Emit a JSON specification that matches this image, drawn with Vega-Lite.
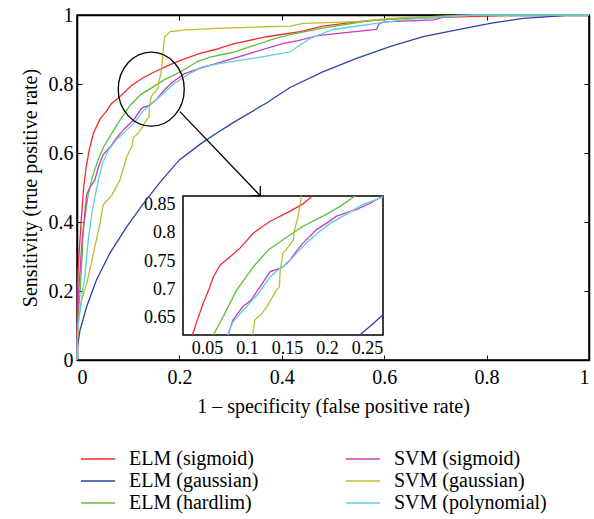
{
  "$schema": "https://vega.github.io/schema/vega-lite/v6.json",
  "width": 512,
  "height": 345,
  "autosize": {"type": "none"},
  "padding": {"left": 77, "top": 15, "right": 5, "bottom": 159},
  "background": "white",
  "config": {
    "view": {"stroke": "black", "strokeWidth": 1.5},
    "font": "Liberation Serif",
    "axis": {"grid": false, "labelFont": "Liberation Serif", "titleFont": "Liberation Serif", "labelColor": "black", "titleColor": "black", "domainColor": "black", "tickColor": "black", "titleFontWeight": "normal", "domainWidth": 1.5, "tickWidth": 1},
    "legend": {"labelFont": "Liberation Serif", "labelColor": "black"}
  },
  "datasets": {
    "main": [
      {"model":"ELM (sigmoid)","x":0,"y":0},{"model":"ELM (sigmoid)","x":0.0005,"y":0.19},{"model":"ELM (sigmoid)","x":0.002,"y":0.26},{"model":"ELM (sigmoid)","x":0.005,"y":0.33},{"model":"ELM (sigmoid)","x":0.009,"y":0.42},{"model":"ELM (sigmoid)","x":0.013,"y":0.5},{"model":"ELM (sigmoid)","x":0.018,"y":0.56},{"model":"ELM (sigmoid)","x":0.024,"y":0.61},{"model":"ELM (sigmoid)","x":0.032,"y":0.657},{"model":"ELM (sigmoid)","x":0.045,"y":0.698},{"model":"ELM (sigmoid)","x":0.058,"y":0.722},{"model":"ELM (sigmoid)","x":0.067,"y":0.743},{"model":"ELM (sigmoid)","x":0.085,"y":0.765},{"model":"ELM (sigmoid)","x":0.106,"y":0.795},{"model":"ELM (sigmoid)","x":0.129,"y":0.818},{"model":"ELM (sigmoid)","x":0.154,"y":0.837},{"model":"ELM (sigmoid)","x":0.183,"y":0.857},{"model":"ELM (sigmoid)","x":0.21,"y":0.873},{"model":"ELM (sigmoid)","x":0.24,"y":0.889},{"model":"ELM (sigmoid)","x":0.27,"y":0.9},{"model":"ELM (sigmoid)","x":0.305,"y":0.916},{"model":"ELM (sigmoid)","x":0.37,"y":0.937},{"model":"ELM (sigmoid)","x":0.436,"y":0.952},{"model":"ELM (sigmoid)","x":0.48,"y":0.968},{"model":"ELM (sigmoid)","x":0.546,"y":0.98},{"model":"ELM (sigmoid)","x":0.611,"y":0.988},{"model":"ELM (sigmoid)","x":0.71,"y":0.993},{"model":"ELM (sigmoid)","x":0.8,"y":0.997},{"model":"ELM (sigmoid)","x":0.85,"y":1},{"model":"ELM (sigmoid)","x":1,"y":1},
      {"model":"ELM (gaussian)","x":0,"y":0},{"model":"ELM (gaussian)","x":0.001,"y":0.039},{"model":"ELM (gaussian)","x":0.006,"y":0.087},{"model":"ELM (gaussian)","x":0.019,"y":0.155},{"model":"ELM (gaussian)","x":0.038,"y":0.232},{"model":"ELM (gaussian)","x":0.064,"y":0.309},{"model":"ELM (gaussian)","x":0.097,"y":0.386},{"model":"ELM (gaussian)","x":0.13,"y":0.454},{"model":"ELM (gaussian)","x":0.162,"y":0.515},{"model":"ELM (gaussian)","x":0.2,"y":0.58},{"model":"ELM (gaussian)","x":0.24,"y":0.625},{"model":"ELM (gaussian)","x":0.27,"y":0.655},{"model":"ELM (gaussian)","x":0.305,"y":0.688},{"model":"ELM (gaussian)","x":0.37,"y":0.745},{"model":"ELM (gaussian)","x":0.416,"y":0.79},{"model":"ELM (gaussian)","x":0.481,"y":0.836},{"model":"ELM (gaussian)","x":0.546,"y":0.874},{"model":"ELM (gaussian)","x":0.611,"y":0.908},{"model":"ELM (gaussian)","x":0.676,"y":0.937},{"model":"ELM (gaussian)","x":0.742,"y":0.957},{"model":"ELM (gaussian)","x":0.807,"y":0.976},{"model":"ELM (gaussian)","x":0.872,"y":0.99},{"model":"ELM (gaussian)","x":0.937,"y":0.997},{"model":"ELM (gaussian)","x":0.96,"y":1},{"model":"ELM (gaussian)","x":1,"y":1},
      {"model":"ELM (hardlim)","x":0,"y":0},{"model":"ELM (hardlim)","x":0.0005,"y":0.05},{"model":"ELM (hardlim)","x":0.002,"y":0.12},{"model":"ELM (hardlim)","x":0.006,"y":0.2},{"model":"ELM (hardlim)","x":0.01,"y":0.3},{"model":"ELM (hardlim)","x":0.012,"y":0.377},{"model":"ELM (hardlim)","x":0.017,"y":0.43},{"model":"ELM (hardlim)","x":0.022,"y":0.48},{"model":"ELM (hardlim)","x":0.03,"y":0.53},{"model":"ELM (hardlim)","x":0.041,"y":0.58},{"model":"ELM (hardlim)","x":0.052,"y":0.618},{"model":"ELM (hardlim)","x":0.068,"y":0.657},{"model":"ELM (hardlim)","x":0.085,"y":0.698},{"model":"ELM (hardlim)","x":0.105,"y":0.74},{"model":"ELM (hardlim)","x":0.125,"y":0.77},{"model":"ELM (hardlim)","x":0.145,"y":0.788},{"model":"ELM (hardlim)","x":0.17,"y":0.812},{"model":"ELM (hardlim)","x":0.195,"y":0.83},{"model":"ELM (hardlim)","x":0.216,"y":0.847},{"model":"ELM (hardlim)","x":0.235,"y":0.865},{"model":"ELM (hardlim)","x":0.26,"y":0.878},{"model":"ELM (hardlim)","x":0.305,"y":0.892},{"model":"ELM (hardlim)","x":0.383,"y":0.93},{"model":"ELM (hardlim)","x":0.416,"y":0.943},{"model":"ELM (hardlim)","x":0.48,"y":0.962},{"model":"ELM (hardlim)","x":0.572,"y":0.984},{"model":"ELM (hardlim)","x":0.65,"y":0.992},{"model":"ELM (hardlim)","x":0.73,"y":0.998},{"model":"ELM (hardlim)","x":0.78,"y":1},{"model":"ELM (hardlim)","x":1,"y":1},
      {"model":"SVM (sigmoid)","x":0,"y":0},{"model":"SVM (sigmoid)","x":0.0005,"y":0.1},{"model":"SVM (sigmoid)","x":0.003,"y":0.193},{"model":"SVM (sigmoid)","x":0.006,"y":0.26},{"model":"SVM (sigmoid)","x":0.009,"y":0.328},{"model":"SVM (sigmoid)","x":0.013,"y":0.39},{"model":"SVM (sigmoid)","x":0.016,"y":0.435},{"model":"SVM (sigmoid)","x":0.019,"y":0.48},{"model":"SVM (sigmoid)","x":0.025,"y":0.5},{"model":"SVM (sigmoid)","x":0.035,"y":0.522},{"model":"SVM (sigmoid)","x":0.042,"y":0.56},{"model":"SVM (sigmoid)","x":0.051,"y":0.595},{"model":"SVM (sigmoid)","x":0.065,"y":0.618},{"model":"SVM (sigmoid)","x":0.078,"y":0.645},{"model":"SVM (sigmoid)","x":0.092,"y":0.669},{"model":"SVM (sigmoid)","x":0.11,"y":0.695},{"model":"SVM (sigmoid)","x":0.127,"y":0.731},{"model":"SVM (sigmoid)","x":0.14,"y":0.737},{"model":"SVM (sigmoid)","x":0.153,"y":0.752},{"model":"SVM (sigmoid)","x":0.17,"y":0.782},{"model":"SVM (sigmoid)","x":0.187,"y":0.806},{"model":"SVM (sigmoid)","x":0.21,"y":0.83},{"model":"SVM (sigmoid)","x":0.24,"y":0.845},{"model":"SVM (sigmoid)","x":0.273,"y":0.86},{"model":"SVM (sigmoid)","x":0.338,"y":0.889},{"model":"SVM (sigmoid)","x":0.403,"y":0.918},{"model":"SVM (sigmoid)","x":0.43,"y":0.925},{"model":"SVM (sigmoid)","x":0.47,"y":0.94},{"model":"SVM (sigmoid)","x":0.52,"y":0.948},{"model":"SVM (sigmoid)","x":0.585,"y":0.958},{"model":"SVM (sigmoid)","x":0.59,"y":0.975},{"model":"SVM (sigmoid)","x":0.6,"y":0.98},{"model":"SVM (sigmoid)","x":0.696,"y":0.986},{"model":"SVM (sigmoid)","x":0.72,"y":0.995},{"model":"SVM (sigmoid)","x":0.75,"y":1},{"model":"SVM (sigmoid)","x":1,"y":1},
      {"model":"SVM (gaussian)","x":0,"y":0},{"model":"SVM (gaussian)","x":0.001,"y":0.058},{"model":"SVM (gaussian)","x":0.003,"y":0.116},{"model":"SVM (gaussian)","x":0.009,"y":0.174},{"model":"SVM (gaussian)","x":0.019,"y":0.222},{"model":"SVM (gaussian)","x":0.025,"y":0.261},{"model":"SVM (gaussian)","x":0.032,"y":0.309},{"model":"SVM (gaussian)","x":0.045,"y":0.396},{"model":"SVM (gaussian)","x":0.051,"y":0.449},{"model":"SVM (gaussian)","x":0.068,"y":0.478},{"model":"SVM (gaussian)","x":0.084,"y":0.522},{"model":"SVM (gaussian)","x":0.097,"y":0.589},{"model":"SVM (gaussian)","x":0.107,"y":0.618},{"model":"SVM (gaussian)","x":0.11,"y":0.645},{"model":"SVM (gaussian)","x":0.118,"y":0.655},{"model":"SVM (gaussian)","x":0.125,"y":0.669},{"model":"SVM (gaussian)","x":0.137,"y":0.698},{"model":"SVM (gaussian)","x":0.1405,"y":0.704},{"model":"SVM (gaussian)","x":0.1415,"y":0.734},{"model":"SVM (gaussian)","x":0.145,"y":0.764},{"model":"SVM (gaussian)","x":0.152,"y":0.776},{"model":"SVM (gaussian)","x":0.158,"y":0.788},{"model":"SVM (gaussian)","x":0.1595,"y":0.806},{"model":"SVM (gaussian)","x":0.164,"y":0.83},{"model":"SVM (gaussian)","x":0.167,"y":0.87},{"model":"SVM (gaussian)","x":0.1685,"y":0.9},{"model":"SVM (gaussian)","x":0.171,"y":0.937},{"model":"SVM (gaussian)","x":0.182,"y":0.952},{"model":"SVM (gaussian)","x":0.214,"y":0.957},{"model":"SVM (gaussian)","x":0.273,"y":0.961},{"model":"SVM (gaussian)","x":0.37,"y":0.966},{"model":"SVM (gaussian)","x":0.416,"y":0.968},{"model":"SVM (gaussian)","x":0.442,"y":0.976},{"model":"SVM (gaussian)","x":0.546,"y":0.981},{"model":"SVM (gaussian)","x":0.611,"y":0.99},{"model":"SVM (gaussian)","x":0.73,"y":0.997},{"model":"SVM (gaussian)","x":0.8,"y":1},{"model":"SVM (gaussian)","x":1,"y":1},
      {"model":"SVM (polynomial)","x":0,"y":0},{"model":"SVM (polynomial)","x":0.001,"y":0.087},{"model":"SVM (polynomial)","x":0.006,"y":0.145},{"model":"SVM (polynomial)","x":0.011,"y":0.2},{"model":"SVM (polynomial)","x":0.016,"y":0.251},{"model":"SVM (polynomial)","x":0.022,"y":0.348},{"model":"SVM (polynomial)","x":0.029,"y":0.425},{"model":"SVM (polynomial)","x":0.036,"y":0.48},{"model":"SVM (polynomial)","x":0.042,"y":0.522},{"model":"SVM (polynomial)","x":0.05,"y":0.57},{"model":"SVM (polynomial)","x":0.062,"y":0.61},{"model":"SVM (polynomial)","x":0.078,"y":0.64},{"model":"SVM (polynomial)","x":0.094,"y":0.662},{"model":"SVM (polynomial)","x":0.112,"y":0.688},{"model":"SVM (polynomial)","x":0.129,"y":0.722},{"model":"SVM (polynomial)","x":0.141,"y":0.737},{"model":"SVM (polynomial)","x":0.162,"y":0.764},{"model":"SVM (polynomial)","x":0.191,"y":0.803},{"model":"SVM (polynomial)","x":0.22,"y":0.83},{"model":"SVM (polynomial)","x":0.245,"y":0.85},{"model":"SVM (polynomial)","x":0.28,"y":0.86},{"model":"SVM (polynomial)","x":0.35,"y":0.876},{"model":"SVM (polynomial)","x":0.416,"y":0.893},{"model":"SVM (polynomial)","x":0.455,"y":0.932},{"model":"SVM (polynomial)","x":0.5,"y":0.958},{"model":"SVM (polynomial)","x":0.585,"y":0.976},{"model":"SVM (polynomial)","x":0.65,"y":0.988},{"model":"SVM (polynomial)","x":0.73,"y":0.996},{"model":"SVM (polynomial)","x":0.78,"y":1},{"model":"SVM (polynomial)","x":1,"y":1}
    ],
    "inset": [
      {"model":"ELM (sigmoid)","x":0.0317,"y":0.618},{"model":"ELM (sigmoid)","x":0.038,"y":0.645},{"model":"ELM (sigmoid)","x":0.0454,"y":0.675},{"model":"ELM (sigmoid)","x":0.052,"y":0.698},{"model":"ELM (sigmoid)","x":0.058,"y":0.722},{"model":"ELM (sigmoid)","x":0.0666,"y":0.743},{"model":"ELM (sigmoid)","x":0.0767,"y":0.755},{"model":"ELM (sigmoid)","x":0.0913,"y":0.773},{"model":"ELM (sigmoid)","x":0.108,"y":0.8},{"model":"ELM (sigmoid)","x":0.129,"y":0.821},{"model":"ELM (sigmoid)","x":0.154,"y":0.839},{"model":"ELM (sigmoid)","x":0.17,"y":0.852},{"model":"ELM (sigmoid)","x":0.182,"y":0.866},
      {"model":"ELM (gaussian)","x":0.241,"y":0.618},{"model":"ELM (gaussian)","x":0.255,"y":0.635},{"model":"ELM (gaussian)","x":0.27,"y":0.654},
      {"model":"ELM (hardlim)","x":0.058,"y":0.618},{"model":"ELM (hardlim)","x":0.0725,"y":0.657},{"model":"ELM (hardlim)","x":0.087,"y":0.698},{"model":"ELM (hardlim)","x":0.098,"y":0.72},{"model":"ELM (hardlim)","x":0.108,"y":0.74},{"model":"ELM (hardlim)","x":0.127,"y":0.77},{"model":"ELM (hardlim)","x":0.145,"y":0.788},{"model":"ELM (hardlim)","x":0.17,"y":0.812},{"model":"ELM (hardlim)","x":0.195,"y":0.83},{"model":"ELM (hardlim)","x":0.216,"y":0.847},{"model":"ELM (hardlim)","x":0.235,"y":0.866},
      {"model":"SVM (sigmoid)","x":0.0763,"y":0.618},{"model":"SVM (sigmoid)","x":0.0825,"y":0.645},{"model":"SVM (sigmoid)","x":0.095,"y":0.669},{"model":"SVM (sigmoid)","x":0.105,"y":0.68},{"model":"SVM (sigmoid)","x":0.112,"y":0.695},{"model":"SVM (sigmoid)","x":0.12,"y":0.712},{"model":"SVM (sigmoid)","x":0.129,"y":0.731},{"model":"SVM (sigmoid)","x":0.141,"y":0.737},{"model":"SVM (sigmoid)","x":0.145,"y":0.74},{"model":"SVM (sigmoid)","x":0.154,"y":0.752},{"model":"SVM (sigmoid)","x":0.162,"y":0.768},{"model":"SVM (sigmoid)","x":0.17,"y":0.782},{"model":"SVM (sigmoid)","x":0.187,"y":0.806},{"model":"SVM (sigmoid)","x":0.2,"y":0.818},{"model":"SVM (sigmoid)","x":0.212,"y":0.83},{"model":"SVM (sigmoid)","x":0.237,"y":0.842},{"model":"SVM (sigmoid)","x":0.254,"y":0.853},{"model":"SVM (sigmoid)","x":0.27,"y":0.866},
      {"model":"SVM (gaussian)","x":0.107,"y":0.618},{"model":"SVM (gaussian)","x":0.11,"y":0.645},{"model":"SVM (gaussian)","x":0.118,"y":0.655},{"model":"SVM (gaussian)","x":0.125,"y":0.669},{"model":"SVM (gaussian)","x":0.137,"y":0.698},{"model":"SVM (gaussian)","x":0.1405,"y":0.704},{"model":"SVM (gaussian)","x":0.1415,"y":0.734},{"model":"SVM (gaussian)","x":0.145,"y":0.764},{"model":"SVM (gaussian)","x":0.152,"y":0.776},{"model":"SVM (gaussian)","x":0.158,"y":0.788},{"model":"SVM (gaussian)","x":0.1595,"y":0.806},{"model":"SVM (gaussian)","x":0.164,"y":0.83},{"model":"SVM (gaussian)","x":0.168,"y":0.866},
      {"model":"SVM (polynomial)","x":0.076,"y":0.618},{"model":"SVM (polynomial)","x":0.082,"y":0.64},{"model":"SVM (polynomial)","x":0.095,"y":0.662},{"model":"SVM (polynomial)","x":0.112,"y":0.688},{"model":"SVM (polynomial)","x":0.129,"y":0.722},{"model":"SVM (polynomial)","x":0.1415,"y":0.737},{"model":"SVM (polynomial)","x":0.15,"y":0.745},{"model":"SVM (polynomial)","x":0.162,"y":0.764},{"model":"SVM (polynomial)","x":0.175,"y":0.783},{"model":"SVM (polynomial)","x":0.191,"y":0.803},{"model":"SVM (polynomial)","x":0.205,"y":0.818},{"model":"SVM (polynomial)","x":0.22,"y":0.83},{"model":"SVM (polynomial)","x":0.245,"y":0.851},{"model":"SVM (polynomial)","x":0.2699,"y":0.864}
    ],
    "ellipse": [{"x": 0.145, "y": 0.785}],
    "arrow": [
      {"x": 0.201, "y": 0.72, "x2": 0.358, "y2": 0.476},
      {"x": 0.358, "y": 0.476, "x2": 0.358, "y2": 0.504},
      {"x": 0.358, "y": 0.476, "x2": 0.341, "y2": 0.476}
    ],
    "box": [{"x1": 0.02, "x2": 0.27, "y1": 0.618, "y2": 0.866}]
  },
  "layer": [
    {
      "layer": [
        {
          "data": {"name": "main"},
          "mark": {"type": "line", "strokeWidth": 1.3},
          "encoding": {
            "x": {"field": "x", "type": "quantitative", "scale": {"domain": [0, 1], "nice": false, "zero": false},
              "axis": {"orient": "bottom", "values": [0, 0.2, 0.4, 0.6, 0.8, 1], "format": "~g", "tickSize": -5, "labelPadding": 12, "labelFontSize": 20, "title": "1 – specificity (false positive rate)", "titleFontSize": 20, "titlePadding": 9}},
            "y": {"field": "y", "type": "quantitative", "scale": {"domain": [0, 1], "nice": false, "zero": false},
              "axis": {"orient": "left", "values": [0, 0.2, 0.4, 0.6, 0.8, 1], "format": "~g", "tickSize": -5, "labelPadding": 9, "labelFontSize": 20, "title": "Sensitivity (true positive rate)", "titleFontSize": 20, "titlePadding": 8}},
            "color": {"field": "model", "type": "nominal",
              "scale": {"domain": ["ELM (sigmoid)", "ELM (gaussian)", "ELM (hardlim)", "SVM (sigmoid)", "SVM (gaussian)", "SVM (polynomial)"],
                        "range": ["#f52a2a", "#2b44a6", "#5cc23c", "#c63cbc", "#bcbc2e", "#5ccfe0"]},
              "legend": {"orient": "none", "legendX": 3, "legendY": 433, "columns": 2, "columnPadding": 84, "rowPadding": 1, "symbolType": "M -1 0 L 2.4 0", "symbolSize": 400, "symbolStrokeWidth": 1.5, "labelFontSize": 20, "labelOffset": 27, "title": null}}
          }
        },
        {
          "data": {"name": "ellipse"},
          "mark": {"type": "point", "shape": "M -0.892 0 A 0.892 1 0 1 0 0.892 0 A 0.892 1 0 1 0 -0.892 0 Z", "size": 5476, "filled": false, "stroke": "black", "strokeWidth": 1.3, "opacity": 1},
          "encoding": {
            "x": {"field": "x", "type": "quantitative", "scale": {"domain": [0, 1], "nice": false, "zero": false},
              "axis": {"orient": "top", "values": [0, 0.2, 0.4, 0.6, 0.8, 1], "labels": false, "tickSize": -5, "title": null}},
            "y": {"field": "y", "type": "quantitative", "scale": {"domain": [0, 1], "nice": false, "zero": false},
              "axis": {"orient": "right", "values": [0, 0.2, 0.4, 0.6, 0.8, 1], "labels": false, "tickSize": -5, "title": null}}
          }
        },
        {
          "data": {"name": "arrow"},
          "mark": {"type": "rule", "color": "black", "strokeWidth": 1.3},
          "encoding": {
            "x": {"field": "x", "type": "quantitative", "scale": {"domain": [0, 1], "nice": false, "zero": false}, "axis": null},
            "y": {"field": "y", "type": "quantitative", "scale": {"domain": [0, 1], "nice": false, "zero": false}, "axis": null},
            "x2": {"field": "x2"},
            "y2": {"field": "y2"}
          }
        }
      ],
      "resolve": {"axis": {"x": "independent", "y": "independent"}}
    },
    {
      "layer": [
        {
          "data": {"name": "box"},
          "mark": {"type": "rect", "fill": "white", "stroke": "black", "strokeWidth": 1.5},
          "encoding": {
            "x": {"field": "x1", "type": "quantitative", "scale": {"domain": [0.02, 0.27], "range": [106, 306], "nice": false, "zero": false},
              "axis": {"orient": "bottom", "offset": -25, "values": [0.05, 0.1, 0.15, 0.2, 0.25], "format": "~g", "tickSize": -4, "labelPadding": 8, "labelFontSize": 18, "title": null, "domain": false}},
            "x2": {"field": "x2"},
            "y": {"field": "y1", "type": "quantitative", "scale": {"domain": [0.618, 0.866], "range": [320, 181], "nice": false, "zero": false},
              "axis": {"orient": "left", "offset": -106, "values": [0.65, 0.7, 0.75, 0.8, 0.85], "format": "~g", "tickSize": -4, "labelPadding": 12, "labelFontSize": 18, "title": null, "domain": false}},
            "y2": {"field": "y2"}
          }
        },
        {
          "data": {"name": "inset"},
          "mark": {"type": "line", "strokeWidth": 1.3},
          "encoding": {
            "x": {"field": "x", "type": "quantitative", "scale": {"domain": [0.02, 0.27], "range": [106, 306], "nice": false, "zero": false},
              "axis": {"orient": "top", "offset": -181, "values": [0.05, 0.1, 0.15, 0.2, 0.25], "labels": false, "tickSize": -4, "title": null, "domain": false}},
            "y": {"field": "y", "type": "quantitative", "scale": {"domain": [0.618, 0.866], "range": [320, 181], "nice": false, "zero": false},
              "axis": {"orient": "right", "offset": -206, "values": [0.65, 0.7, 0.75, 0.8, 0.85], "labels": false, "tickSize": -4, "title": null, "domain": false}},
            "color": {"field": "model", "type": "nominal", "legend": null,
              "scale": {"domain": ["ELM (sigmoid)", "ELM (gaussian)", "ELM (hardlim)", "SVM (sigmoid)", "SVM (gaussian)", "SVM (polynomial)"],
                        "range": ["#f52a2a", "#2b44a6", "#5cc23c", "#c63cbc", "#bcbc2e", "#5ccfe0"]}}
          }
        }
      ],
      "resolve": {"axis": {"x": "independent", "y": "independent"}}
    }
  ],
  "resolve": {"scale": {"x": "independent", "y": "independent"}}
}
